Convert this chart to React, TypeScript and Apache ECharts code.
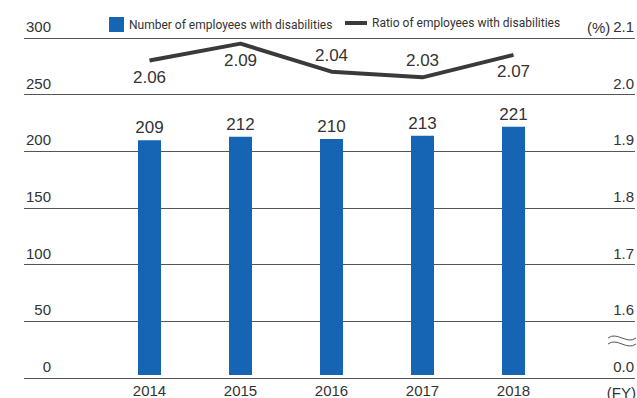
import React, { useEffect, useRef } from "react";
import * as echarts from "echarts";

const years = ["2014", "2015", "2016", "2017", "2018"];
const employees = [209, 212, 210, 213, 221];
const ratios = [2.06, 2.09, 2.04, 2.03, 2.07];
const ratioLabelPos = ["bottom", "bottom", "top", "top", "bottom"];
const barName = "Number of employees with disabilities";
const lineName = "Ratio of employees with disabilities";
const leftMin = 0;
const leftMax = 300;
const leftStep = 50;
const rightMin = 1.5;
const rightMax = 2.1;
const rightStep = 0.1;
const rightBreakLabel = "0.0";

const FONT = "'Liberation Sans', Arial, sans-serif";
const LEGEND_FONT = "Roboto, 'Liberation Sans', sans-serif";
const TEXT = "#333";
const GRID = "#555";
const BLUE = "#1565b4";
const LINE = "#3a3a3a";

export default function App() {
  const ref = useRef<HTMLDivElement>(null);
  useEffect(() => {
    if (!ref.current) return;
    const chart = echarts.init(ref.current, undefined, { renderer: "svg" });
    const gridTop = 38;
    const gridBottom = 20;
    chart.setOption({
      animation: false,
      textStyle: { fontFamily: FONT },
      grid: [
        { left: 104, right: 78, top: gridTop, bottom: gridBottom },
        { left: 24, right: 0, top: gridTop, bottom: gridBottom },
      ],
      legend: [
        {
          data: [{ name: barName, icon: "rect" }],
          left: 104,
          top: 12,
          itemWidth: 15,
          itemHeight: 15,
          textStyle: { fontSize: 12, color: TEXT, fontFamily: LEGEND_FONT },
        },
        {
          data: [{ name: lineName, icon: "path://M0,0h22v4h-22z" }],
          left: 340,
          top: 12,
          itemWidth: 22,
          itemHeight: 15,
          textStyle: { fontSize: 12, color: TEXT, fontFamily: LEGEND_FONT },
        },
      ],
      xAxis: [
        {
          type: "category",
          gridIndex: 0,
          data: years,
          axisLine: { show: false },
          axisTick: { show: false },
          axisLabel: { fontSize: 15, color: TEXT, margin: 8 },
        },
        { type: "value", gridIndex: 1, show: false, min: 0, max: 1 },
      ],
      yAxis: [
        { type: "value", gridIndex: 0, min: leftMin, max: leftMax, interval: leftStep, show: false },
        { type: "value", gridIndex: 0, min: rightMin, max: rightMax, interval: rightStep, show: false },
        {
          type: "value",
          gridIndex: 1,
          position: "left",
          min: leftMin,
          max: leftMax,
          interval: leftStep,
          axisLine: { show: false },
          axisTick: { show: false },
          splitLine: { show: true, lineStyle: { color: GRID, width: 1 } },
          axisLabel: {
            inside: true,
            margin: 27,
            align: "right",
            verticalAlign: "bottom",
            padding: [0, 0, 4, 0],
            fontSize: 15,
            color: TEXT,
          },
        },
        {
          type: "value",
          gridIndex: 1,
          position: "right",
          min: rightMin,
          max: rightMax,
          interval: rightStep,
          axisLine: { show: false },
          axisTick: { show: false },
          splitLine: { show: false },
          axisLabel: {
            inside: true,
            margin: 1,
            align: "right",
            verticalAlign: "bottom",
            padding: [0, 0, 4, 0],
            fontSize: 15,
            color: TEXT,
            formatter: (v: number) => (v < rightMin + rightStep / 2 ? rightBreakLabel : v.toFixed(1)),
          },
        },
      ],
      series: [
        {
          name: barName,
          type: "bar",
          xAxisIndex: 0,
          yAxisIndex: 0,
          data: employees,
          barWidth: 23,
          itemStyle: { color: BLUE },
          label: { show: true, position: "top", distance: 4, fontSize: 17, color: TEXT },
        },
        {
          name: lineName,
          type: "line",
          xAxisIndex: 0,
          yAxisIndex: 1,
          symbol: "circle",
          symbolSize: 0.1,
          showSymbol: true,
          itemStyle: { color: LINE },
          lineStyle: { color: LINE, width: 4 },
          data: ratios.map((v, i) => ({
            value: v,
            label: { show: true, position: ratioLabelPos[i], distance: 8, fontSize: 17, color: TEXT },
          })),
        },
      ],
      graphic: [
        {
          type: "text",
          x: 587,
          y: 27,
          style: { text: "(%)", fontSize: 15, fill: TEXT, fontFamily: FONT, verticalAlign: "middle" },
        },
        {
          type: "text",
          x: 636,
          y: 392,
          style: { text: "(FY)", fontSize: 15, fill: TEXT, fontFamily: FONT, align: "right", verticalAlign: "middle" },
        },
        {
          type: "bezierCurve",
          shape: { x1: 608, y1: 338, cpx1: 617, cpy1: 331, cpx2: 627, cpy2: 345, x2: 636, y2: 338 },
          style: { stroke: GRID, lineWidth: 1, fill: "none" },
        },
        {
          type: "bezierCurve",
          shape: { x1: 608, y1: 344, cpx1: 617, cpy1: 337, cpx2: 627, cpy2: 351, x2: 636, y2: 344 },
          style: { stroke: GRID, lineWidth: 1, fill: "none" },
        },
      ],
    });
    return () => chart.dispose();
  }, []);
  return <div ref={ref} style={{ position: "absolute", left: 0, top: 0, width: 637, height: 398 }} />;
}
